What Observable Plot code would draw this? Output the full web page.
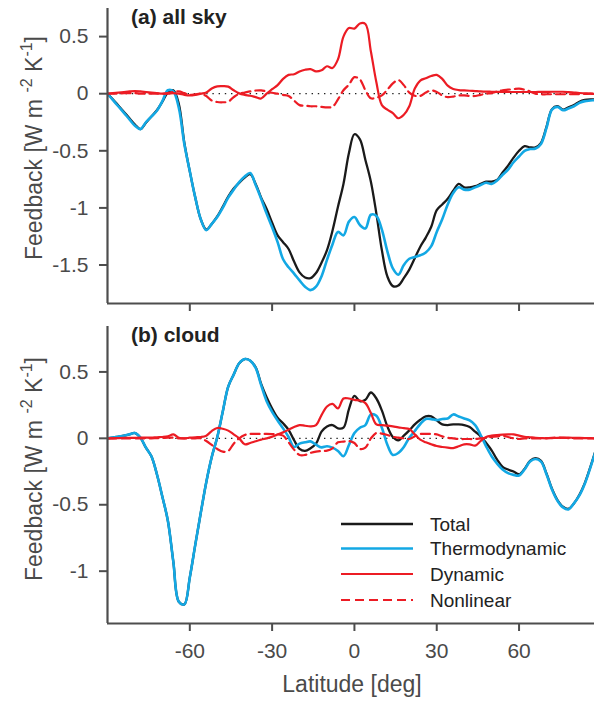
<!DOCTYPE html>
<html><head><meta charset="utf-8">
<script src="https://cdn.jsdelivr.net/npm/d3@7"></script>
<script src="https://cdn.jsdelivr.net/npm/@observablehq/plot@0.6"></script>
<style>
html,body{margin:0;padding:0;background:#fff;overflow:hidden;}
svg{display:block}
</style></head><body><div id="chart"></div>
<script>
const lat = [-90,-88,-86,-84,-82,-80,-78,-76,-74,-72,
 -70,-68,-66,-64,-62,-60,-58,-56,-54,-52,
 -50,-48,-46,-44,-42,-40,-38,-36,-34,-32,
 -30,-28,-26,-24,-22,-20,-18,-16,-14,-12,
 -10,-8,-6,-4,-2,0,2,4,6,8,
 10,12,14,16,18,20,22,24,26,28,
 30,32,34,36,38,40,42,44,46,48,
 50,52,54,56,58,60,62,64,66,68,
 70,72,74,76,78,80,82,84,86,88];

// (a) all sky
const aTotal = [0,-0.05,-0.105,-0.16,-0.215,-0.27,-0.31,-0.255,-0.2,-0.145,
 -0.07,0.01,0.03,-0.09,-0.43,-0.68,-0.91,-1.1,-1.19,-1.14,
 -1.075,-0.99,-0.9,-0.83,-0.78,-0.735,-0.705,-0.79,-0.91,-1.01,
 -1.13,-1.24,-1.3,-1.36,-1.47,-1.565,-1.61,-1.615,-1.57,-1.48,
 -1.37,-1.2,-0.99,-0.79,-0.52,-0.355,-0.4,-0.58,-0.77,-1.05,
 -1.37,-1.6,-1.685,-1.68,-1.615,-1.54,-1.44,-1.34,-1.26,-1.165,
 -1.02,-0.97,-0.92,-0.85,-0.79,-0.82,-0.82,-0.81,-0.79,-0.77,
 -0.77,-0.755,-0.69,-0.63,-0.56,-0.5,-0.46,-0.47,-0.47,-0.43,
 -0.29,-0.135,-0.11,-0.14,-0.12,-0.1,-0.07,-0.055,-0.05,-0.05];
const aThermo = [0,-0.056,-0.112,-0.168,-0.225,-0.28,-0.31,-0.25,-0.2,-0.15,
 -0.065,0.03,0.02,-0.125,-0.44,-0.68,-0.91,-1.1,-1.195,-1.14,
 -1.08,-1.0,-0.91,-0.84,-0.775,-0.725,-0.695,-0.8,-0.92,-1.05,
 -1.17,-1.3,-1.45,-1.52,-1.575,-1.635,-1.69,-1.72,-1.69,-1.6,
 -1.455,-1.32,-1.21,-1.24,-1.12,-1.08,-1.15,-1.18,-1.06,-1.07,
 -1.19,-1.38,-1.53,-1.585,-1.5,-1.445,-1.43,-1.415,-1.39,-1.335,
 -1.21,-1.1,-0.97,-0.87,-0.82,-0.84,-0.84,-0.82,-0.8,-0.78,
 -0.79,-0.76,-0.71,-0.665,-0.6,-0.55,-0.5,-0.485,-0.48,-0.44,
 -0.3,-0.14,-0.115,-0.145,-0.13,-0.11,-0.08,-0.065,-0.06,-0.055];
const aDynamic = [0,0.005,0.01,0.015,0.02,0.023,0.02,0.015,0.01,0.005,
 0,0,0.005,0,-0.01,-0.015,-0.01,0,0.01,0.045,
 0.064,0.066,0.062,0.03,0.003,-0.01,-0.018,-0.03,-0.042,0,
 0.04,0.075,0.13,0.165,0.17,0.195,0.21,0.215,0.195,0.205,
 0.24,0.225,0.3,0.5,0.575,0.57,0.615,0.61,0.37,0.1,
 -0.1,-0.14,-0.17,-0.215,-0.185,-0.11,0.045,0.115,0.135,0.155,
 0.165,0.13,0.07,0.042,0.032,0.029,0.026,0.023,0.02,0.018,
 0.017,0.016,0.016,0.015,0.015,0.015,0.015,0.015,0.015,0.016,
 0.016,0.017,0.017,0.017,0.014,0.01,0.006,0.003,0,-0.004];
const aNonlinear = [0,0,0,0.005,0.005,0.005,0,0,0,0,
 0,0.005,0.015,0.02,0.005,-0.01,-0.005,0,-0.02,-0.06,
 -0.073,-0.075,-0.07,-0.03,0,0.01,0.02,0.028,0.029,0.02,
 0.008,0,-0.01,-0.02,-0.06,-0.1,-0.105,-0.11,-0.11,-0.115,
 -0.12,-0.115,-0.05,0.03,0.08,0.145,0.125,0.03,-0.04,-0.035,
 -0.015,0.035,0.09,0.12,0.075,0.01,-0.018,-0.02,0.01,0.028,
 0.015,-0.015,-0.03,-0.025,-0.015,-0.015,-0.02,-0.02,-0.01,0,
 0.005,0.02,0.03,0.035,0.04,0.044,0.035,0.02,0,-0.005,
 -0.005,-0.005,-0.005,-0.005,-0.005,-0.004,-0.003,-0.002,0,0];

// (b) cloud
const bTotal = [0,0.006,0.013,0.02,0.03,0.04,0.005,-0.07,-0.135,-0.27,
 -0.44,-0.62,-0.93,-1.23,-1.25,-1.047,-0.8,-0.56,-0.33,-0.14,
 0.008,0.2,0.39,0.48,0.565,0.597,0.585,0.535,0.41,0.31,
 0.225,0.155,0.113,0.064,-0.014,-0.08,-0.095,-0.075,-0.04,0.05,
 0.09,0.1,0.075,0.08,0.22,0.32,0.28,0.29,0.345,0.3,
 0.21,0.09,0.01,-0.015,0.02,0.06,0.105,0.14,0.165,0.165,
 0.135,0.105,0.1,0.105,0.105,0.1,0.085,0.05,0.015,-0.035,
 -0.09,-0.16,-0.215,-0.235,-0.25,-0.27,-0.23,-0.17,-0.15,-0.17,
 -0.265,-0.38,-0.465,-0.515,-0.53,-0.49,-0.425,-0.335,-0.215,-0.085];
const bThermo = [0,0.006,0.013,0.02,0.03,0.04,0.005,-0.07,-0.135,-0.27,
 -0.44,-0.62,-0.93,-1.23,-1.25,-1.047,-0.8,-0.56,-0.33,-0.14,
 0.008,0.2,0.39,0.48,0.565,0.597,0.585,0.53,0.4,0.28,
 0.2,0.135,0.075,0.01,-0.065,-0.04,-0.03,-0.023,-0.048,-0.068,
 -0.06,-0.07,-0.095,-0.135,-0.05,0.04,0.08,0.1,0.18,0.17,
 0.08,-0.048,-0.125,-0.11,-0.065,0.005,0.055,0.108,0.145,0.145,
 0.138,0.146,0.15,0.18,0.165,0.15,0.135,0.1,0.025,-0.06,
 -0.135,-0.19,-0.235,-0.262,-0.275,-0.28,-0.235,-0.175,-0.155,-0.175,
 -0.27,-0.385,-0.47,-0.52,-0.535,-0.49,-0.43,-0.34,-0.22,-0.09];
const bDynamic = [0,0,0.002,0.003,0.003,0.004,0.005,0.005,0.005,0.008,
 0.01,0.015,0.03,0.005,0,0.005,0.008,0.01,0.02,0.055,
 0.078,0.072,0.058,0.03,0,-0.045,-0.035,-0.022,-0.01,0,
 0.012,0.03,0.045,0.065,0.085,0.1,0.095,0.09,0.1,0.175,
 0.24,0.26,0.225,0.3,0.3,0.29,0.285,0.265,0.19,0.105,
 0.1,0.096,0.09,0.083,0.077,0.07,0.03,-0.01,-0.03,-0.045,
 -0.058,-0.065,-0.07,-0.073,-0.06,-0.045,-0.045,-0.055,-0.02,0.01,
 0.02,0.025,0.028,0.03,0.03,0.02,0.012,0.008,0.004,0.002,
 0,0.002,0.004,0.005,0.005,0.004,0.003,0.002,0.001,0];
const bNonlinear = [0,0,0,0,0,0,0,0,0,0.002,
 0.003,0.005,0.005,0,0,0,0,0,-0.02,-0.05,
 -0.08,-0.1,-0.095,-0.04,0,0.025,0.033,0.033,0.033,0.033,
 0.032,0.03,0.02,-0.03,-0.085,-0.125,-0.125,-0.11,-0.1,-0.095,
 -0.093,-0.075,-0.03,-0.025,-0.02,-0.035,-0.08,-0.07,0,0.04,
 0.035,0.025,0.012,0.005,0,-0.005,0.015,0.033,0.033,0.033,
 0.03,0.015,0.005,0,-0.005,-0.005,-0.005,-0.005,0,0.005,
 0.01,0.015,0.02,0.01,0,-0.005,0,0,0,0,
 0.002,0.004,0.005,0.004,0.002,0,0,0,0,0];

const seriesNames = ["Total", "Thermodynamic", "Dynamic", "Nonlinear"];
const xTicks = [-60, -30, 0, 30, 60];
const aTicks = [-1.5, -1, -0.5, 0, 0.5];
const bTicks = [-1, -0.5, 0, 0.5];
const panelTitles = ["(a) all sky", "(b) cloud"];
const xLabel = "Latitude [deg]";

const FONT = '"Liberation Sans", Arial, Helvetica, sans-serif';
const AX = "#4d4d4d", TXT = "#4a4a4a";
const styles = {
  Total: {stroke: "#1a1a1a", width: 2.3, dash: null},
  Thermodynamic: {stroke: "#13a8e4", width: 2.6, dash: null},
  Dynamic: {stroke: "#ec1c24", width: 2.2, dash: null},
  Nonlinear: {stroke: "#ec1c24", width: 2.2, dash: "9,5"}
};

function makePanel(cfg) {
  const rows = [];
  seriesNames.forEach((name, k) => cfg.series[k].forEach((v, i) => rows.push({lat: lat[i], value: v, name})));
  const line = name => Plot.line(rows.filter(d => d.name === name), {
    x: "lat", y: "value", stroke: styles[name].stroke, strokeWidth: styles[name].width,
    strokeDasharray: styles[name].dash, curve: "catmull-rom", clip: true
  });
  const svg = Plot.plot({
    width: 594, height: cfg.height, marginLeft: 107, marginRight: 0,
    marginTop: cfg.mt, marginBottom: cfg.mb,
    style: {fontFamily: FONT, background: "#fff"},
    x: {domain: [-90, 87.5], label: null},
    y: {domain: cfg.yDomain, label: null},
    marks: [
      Plot.ruleY([0], {stroke: "#222", strokeWidth: 1.3, strokeDasharray: "1.4,4.8"}),
      ...seriesNames.map(line),
      Plot.axisY({ticks: cfg.yTicks, tickSize: 8, tickPadding: 11, tickFormat: d => String(d),
        stroke: AX, strokeWidth: 2, fill: TXT, fontSize: 21, label: null}),
      Plot.axisX({ticks: xTicks, tickSize: 8, tickPadding: 12,
        tickFormat: cfg.showX ? d => String(d) : () => "",
        stroke: AX, strokeWidth: 2, fill: TXT, fontSize: 21, label: null}),
      Plot.ruleX([-90], {stroke: AX, strokeWidth: 2.2}),
      Plot.ruleY([cfg.yDomain[0]], {stroke: AX, strokeWidth: 2.2})
    ]
  });
  const s = d3.select(svg);
  s.selectAll("text").filter(function() { return this.textContent === ""; }).remove();
  // panel title
  s.append("text").attr("x", 131).attr("y", cfg.titleY).attr("text-anchor", "start")
    .attr("font-family", FONT).attr("font-size", 21).attr("font-weight", "bold")
    .attr("fill", "#222").text(cfg.title);
  // y label
  const t = s.append("text").attr("transform", `translate(42,${cfg.labelCY}) rotate(-90)`)
    .attr("text-anchor", "middle").attr("font-family", FONT).attr("font-size", 23).attr("fill", TXT);
  t.append("tspan").text("Feedback [W m ");
  t.append("tspan").attr("dy", -10).attr("font-size", 16).text("-2");
  t.append("tspan").attr("dy", 10).text(" K");
  t.append("tspan").attr("dy", -10).attr("font-size", 16).text("-1");
  t.append("tspan").attr("dy", 10).text("]");
  return svg;
}

const svgA = makePanel({
  series: [aTotal, aThermo, aDynamic, aNonlinear], yDomain: [-1.837, 0.746], yTicks: aTicks,
  height: 313, mt: 8, mb: 10, showX: false, title: panelTitles[0], titleY: 24, labelCY: 148
});
const svgB = makePanel({
  series: [bTotal, bThermo, bDynamic, bNonlinear], yDomain: [-1.394, 0.842], yTicks: bTicks,
  height: 389, mt: 13, mb: 79, showX: true, title: panelTitles[1], titleY: 29, labelCY: 156
});

// x label
d3.select(svgB).append("text").attr("x", 352).attr("y", 379).attr("text-anchor", "middle")
  .attr("font-family", FONT).attr("font-size", 23).attr("fill", TXT).text(xLabel);

// legend
const lg = d3.select(svgB).append("g").attr("font-family", FONT).attr("font-size", 19)
  .attr("fill", "#222").attr("text-anchor", "start");
const legendY = [211, 235.5, 261, 287];
seriesNames.forEach((name, i) => {
  const st = styles[name];
  lg.append("line").attr("x1", 341).attr("x2", 413).attr("y1", legendY[i]).attr("y2", legendY[i])
    .attr("stroke", st.stroke).attr("stroke-width", st.width).attr("stroke-dasharray", st.dash);
  lg.append("text").attr("x", 430).attr("y", legendY[i]).attr("dy", "0.36em").text(name);
});

const root = document.getElementById("chart");
root.append(svgA, svgB);
</script>
</body></html>
